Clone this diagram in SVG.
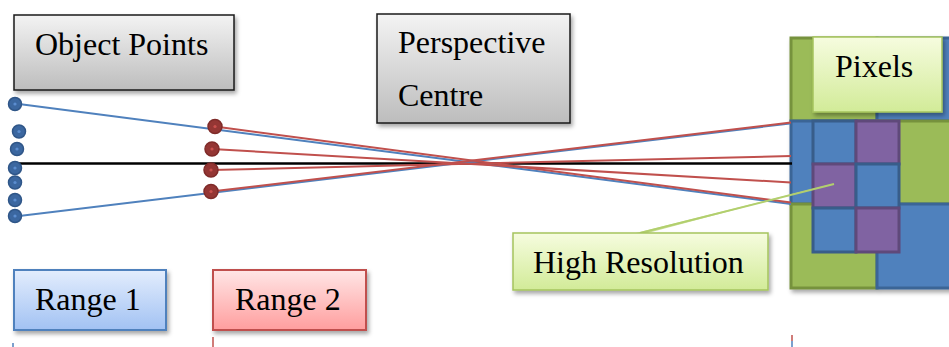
<svg xmlns="http://www.w3.org/2000/svg" width="949" height="347" viewBox="0 0 949 347">
<defs>
<linearGradient id="gGray" x1="0" y1="0" x2="0" y2="1"><stop offset="0" stop-color="#f3f3f3"/><stop offset="1" stop-color="#bdbdbd"/></linearGradient>
<linearGradient id="gGreen" x1="0" y1="0" x2="0" y2="1"><stop offset="0" stop-color="#f6fcdf"/><stop offset="1" stop-color="#d2eb98"/></linearGradient>
<linearGradient id="gBlue" x1="0" y1="0" x2="0" y2="1"><stop offset="0" stop-color="#e3edfd"/><stop offset="1" stop-color="#a2c2f3"/></linearGradient>
<linearGradient id="gRed" x1="0" y1="0" x2="0" y2="1"><stop offset="0" stop-color="#ffe6e6"/><stop offset="1" stop-color="#ff9e9e"/></linearGradient>
<filter id="sh" x="-10%" y="-10%" width="130%" height="140%"><feDropShadow dx="2" dy="3" stdDeviation="2" flood-color="#000" flood-opacity="0.35"/></filter>
</defs>
<style>
text{font-family:"Liberation Serif","Times New Roman",serif;font-size:32px;fill:#000}
.gray{fill:url(#gGray);stroke:#1a1a1a;stroke-width:1.5;filter:url(#sh)}
.lgreen{fill:url(#gGreen);stroke:#a5c45e;stroke-width:1.5;filter:url(#sh)}
.rblue{fill:url(#gBlue);stroke:#4f81bd;stroke-width:2;filter:url(#sh)}
.rred{fill:url(#gRed);stroke:#c0504d;stroke-width:2;filter:url(#sh)}
.bg{fill:#9bbb59;stroke:#76923c;stroke-width:3}
.bb{fill:#4f81bd;stroke:#3a6596;stroke-width:3}
.sb{fill:#4f81bd;stroke:#385d8a;stroke-width:3}
.sp{fill:#8064a2;stroke:#5f497a;stroke-width:3}
.bl{stroke:#4f81bd;stroke-width:2;fill:none}
.rl{stroke:#c0504d;stroke-width:2;fill:none}
.bd{fill:#3b67a0;stroke:#2f5688;stroke-width:1.5}
.bdc{fill:#5b8dcf}
.rd{fill:#943634;stroke:#7f2b29;stroke-width:1.5}
.rdc{fill:#c9504d}
</style>

<g id="pixels-grid" filter="url(#sh)">
<rect class="bg" x="791" y="38" width="86" height="83"/>
<rect class="bb" x="877" y="38" width="74" height="83"/>
<rect class="bb" x="791" y="121" width="86" height="83"/>
<rect class="bg" x="877" y="121" width="74" height="83"/>
<rect class="bg" x="791" y="204" width="86" height="84"/>
<rect class="bb" x="877" y="204" width="74" height="84"/>
<rect class="sb" x="813" y="121" width="43" height="43"/>
<rect class="sp" x="856" y="121" width="43" height="43"/>
<rect class="sp" x="813" y="164" width="43" height="44"/>
<rect class="sb" x="856" y="164" width="43" height="44"/>
<rect class="sb" x="813" y="208" width="43" height="44"/>
<rect class="sp" x="856" y="208" width="43" height="44"/>
</g>

<g id="connectors">
<line x1="15" y1="163.5" x2="792" y2="163.5" stroke="#000" stroke-width="2.5"/>
<line class="bl" x1="15" y1="103.5" x2="791" y2="204"/>
<line class="bl" x1="15" y1="216.5" x2="790" y2="123.5"/>
<line class="rl" x1="215" y1="126.5" x2="791" y2="202.5"/>
<line class="rl" x1="212" y1="149" x2="791" y2="182.5"/>
<line class="rl" x1="211" y1="170" x2="791" y2="156"/>
<line class="rl" x1="211" y1="191.5" x2="791" y2="122.5"/>
<line x1="13" y1="343" x2="13" y2="347" stroke="#4f81bd" stroke-width="1.5"/>
<line x1="213" y1="337" x2="213" y2="347" stroke="#c0504d" stroke-width="1.5"/>
<line x1="792" y1="335" x2="792" y2="341" stroke="#c0504d" stroke-width="1.5"/>
<line x1="792" y1="341" x2="792" y2="347" stroke="#4f81bd" stroke-width="1.5"/>
</g>

<g id="object-points">
<circle class="bd" cx="15" cy="104" r="6.5"/><circle class="bdc" cx="15" cy="104" r="1.6"/>
<circle class="bd" cx="19" cy="131.5" r="6.5"/><circle class="bdc" cx="19" cy="131.5" r="1.6"/>
<circle class="bd" cx="17" cy="149" r="6.5"/><circle class="bdc" cx="17" cy="149" r="1.6"/>
<circle class="bd" cx="15" cy="168" r="6.5"/><circle class="bdc" cx="15" cy="168" r="1.6"/>
<circle class="bd" cx="15" cy="182.5" r="6.5"/><circle class="bdc" cx="15" cy="182.5" r="1.6"/>
<circle class="bd" cx="15" cy="200" r="6.5"/><circle class="bdc" cx="15" cy="200" r="1.6"/>
<circle class="bd" cx="15" cy="216" r="6.5"/><circle class="bdc" cx="15" cy="216" r="1.6"/>
</g>

<g id="range2-points">
<circle class="rd" cx="215" cy="126.5" r="7"/><circle class="rdc" cx="215" cy="126.5" r="1.6"/>
<circle class="rd" cx="212" cy="149" r="7"/><circle class="rdc" cx="212" cy="149" r="1.6"/>
<circle class="rd" cx="211" cy="170" r="7"/><circle class="rdc" cx="211" cy="170" r="1.6"/>
<circle class="rd" cx="211" cy="191.5" r="7"/><circle class="rdc" cx="211" cy="191.5" r="1.6"/>
</g>

<g id="object-points-label">
<rect class="gray" x="14" y="15" width="220" height="75"/>
<text x="35" y="55">Object Points</text>
</g>

<g id="perspective-centre">
<rect class="gray" x="377" y="14" width="193" height="109"/>
<text x="398" y="53">Perspective</text>
<text x="398" y="106">Centre</text>
</g>

<g id="pixels-label">
<rect class="lgreen" x="813" y="37" width="129" height="75"/>
<text x="835" y="77">Pixels</text>
</g>

<g id="high-resolution">
<polygon points="634,233.5 646,233.5 834,183.5" fill="#c4dc8a" opacity="0.9"/>
<line x1="640" y1="233" x2="834" y2="184" stroke="#b2cf6e" stroke-width="2"/>
<rect class="lgreen" x="513" y="233" width="255" height="57"/>
<text x="533" y="273">High Resolution</text>
</g>

<g id="range-1">
<rect class="rblue" x="14" y="270" width="152" height="60"/>
<text x="35" y="310">Range 1</text>
</g>

<g id="range-2">
<rect class="rred" x="213" y="270" width="153" height="60"/>
<text x="235" y="310">Range 2</text>
</g>
</svg>
